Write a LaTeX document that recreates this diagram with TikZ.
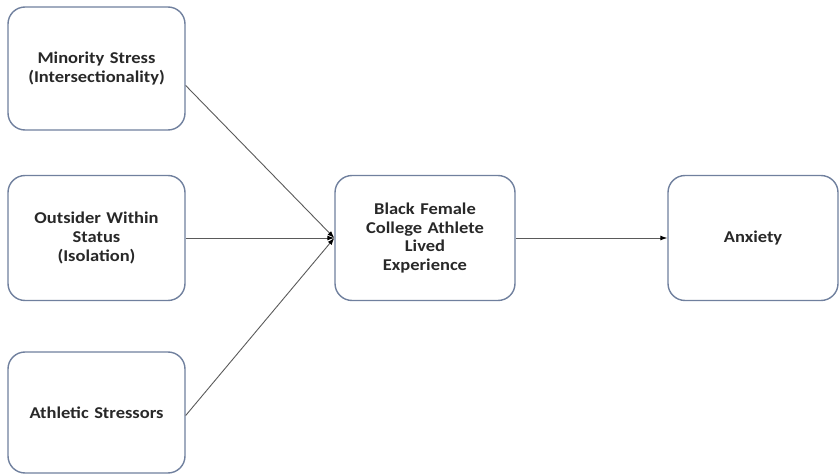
\documentclass[tikz,border=0pt]{standalone}
\usepackage{fontspec}
\setmainfont{Carlito}[FakeStretch=1.12]
\usetikzlibrary{arrows.meta}
\definecolor{boxline}{RGB}{112,128,158}
\definecolor{txt}{RGB}{40,40,40}
\definecolor{conn}{RGB}{90,90,90}

\begin{document}
\begin{tikzpicture}[x=1pt,y=-1pt,>={Latex[length=7pt,width=5pt,black]},
  box/.style={draw=boxline,line width=1.4pt,rounded corners=17pt,fill=white,
    align=center,text=txt,font=\fontsize{16.5}{18.8}\selectfont\bfseries,
    inner sep=0pt,text width=170pt},
  conn/.style={draw=conn,line width=.9pt}]
\useasboundingbox (0,0) rectangle (839,476);

\node[box,minimum width=177pt,minimum height=123pt] (minor) at (96.5,68.5) {Minority Stress\\(Intersectionality)};
\node[box,minimum width=177pt,minimum height=125pt] (outside) at (96.5,238) {Outsider Within\\Status\\(Isolation)};
\node[box,minimum width=177pt,minimum height=121pt] (athl) at (96.5,412.5) {Athletic Stressors};
\node[box,minimum width=180pt,minimum height=125pt] (lived) at (425,238) {Black Female\\College Athlete\\Lived\\Experience};
\node[box,minimum width=170pt,minimum height=125pt] (anx) at (753,238) {Anxiety};

\draw[conn,->] ([yshift=-17pt]minor.east) -- (lived.west);
\draw[conn,->] (outside.east) -- (lived.west);
\draw[conn,->] ([yshift=-3pt]athl.east) -- (lived.west);
\draw[conn,->] (lived.east) -- (anx.west);
\end{tikzpicture}
\end{document}
